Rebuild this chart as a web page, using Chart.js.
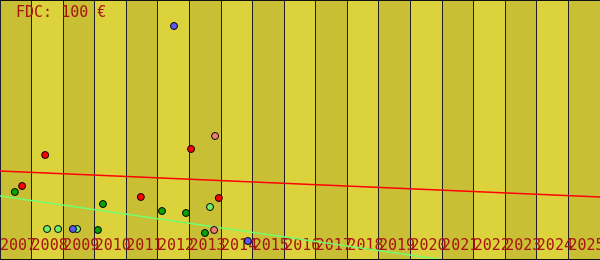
<!DOCTYPE html>
<html>
<head>
<meta charset="utf-8">
<script src="https://cdn.jsdelivr.net/npm/chart.js@4"></script>
<style>
  body { margin: 0; background: #fff; }
  #wrap { width: 600px; height: 260px; position: relative; }
</style>
</head>
<body>
<div id="wrap"><canvas id="myChart"></canvas></div>
<script>
// years shown on the x axis
let years = [2007, 2008, 2009, 2010, 2011, 2012, 2013, 2014, 2015, 2016,
  2017, 2018, 2019, 2020, 2021, 2022, 2023, 2024, 2025];
let titleText = 'FDC: 100 €';

// sale prices (€) by date, per group
let bluePts = [{x: 2012.51, y: 117}, {x: 2009.31, y: 15.5}, {x: 2014.85, y: 9.5}];
let redPts = [{x: 2008.43, y: 52.5}, {x: 2007.70, y: 37}, {x: 2011.46, y: 31.5},
  {x: 2013.05, y: 55.5}, {x: 2013.93, y: 31}];
let pinkPts = [{x: 2013.81, y: 62}, {x: 2013.78, y: 15}];
let lightGreenPts = [{x: 2008.49, y: 15.5}, {x: 2008.84, y: 15.5}, {x: 2009.44, y: 15.5},
  {x: 2013.65, y: 26.5}];
let darkGreenPts = [{x: 2007.47, y: 34}, {x: 2010.26, y: 28}, {x: 2010.10, y: 15},
  {x: 2012.13, y: 24.5}, {x: 2012.89, y: 23.5}, {x: 2013.49, y: 13.5}];

// trend lines
let redTrend = [{x: 2007, y: 44.5}, {x: 2026, y: 31.5}];
let greenTrend = [{x: 2007, y: 32}, {x: 2026, y: -11.2}];

let stripes = {
  id: 'stripes',
  beforeDraw(chart) {
    let ctx = chart.ctx;
    let xs = chart.scales.x;
    ctx.save();
    years.forEach(yr => {
      let a = xs.getPixelForValue(yr);
      let b = xs.getPixelForValue(yr + 1);
      ctx.fillStyle = yr % 2 ? '#c9bf35' : '#dcd33c';
      ctx.fillRect(a, 0, b - a, chart.height);
    });
    ctx.restore();
  },
  afterDraw(chart) {
    let ctx = chart.ctx;
    ctx.save();
    ctx.strokeStyle = '#111';
    ctx.lineWidth = 1;
    ctx.beginPath();
    ctx.moveTo(0, 0.5); ctx.lineTo(chart.width, 0.5);
    ctx.moveTo(0, chart.height - 0.5); ctx.lineTo(chart.width, chart.height - 0.5);
    ctx.stroke();
    ctx.fillStyle = '#a81414';
    ctx.font = '15px "DejaVu Sans Mono"';
    ctx.textBaseline = 'alphabetic';
    ctx.fillText(titleText, 16, 17);
    ctx.restore();
  }
};

let pt = (label, color, data) => ({
  label: label,
  data: data,
  backgroundColor: color,
  borderColor: '#000',
  borderWidth: 1,
  pointRadius: 3.5,
  pointHoverRadius: 3.5
});

let ctx = document.getElementById('myChart').getContext('2d');
let chart = new Chart(ctx, {
  type: 'scatter',
  data: {
    datasets: [
      pt('blue', '#5a5af5', bluePts),
      pt('red', '#ff0000', redPts),
      pt('pink', '#f47a78', pinkPts),
      pt('lightgreen', '#74f06c', lightGreenPts),
      pt('darkgreen', '#0aa00a', darkGreenPts),
      {
        type: 'line', label: 'red trend', data: redTrend,
        borderColor: '#ff0000', borderWidth: 1.4, pointRadius: 0, fill: false
      },
      {
        type: 'line', label: 'green trend', data: greenTrend,
        borderColor: '#70ff70', borderWidth: 1.4, pointRadius: 0, fill: false
      }
    ]
  },
  options: {
    responsive: true,
    maintainAspectRatio: false,
    animation: false,
    layout: { padding: 0, autoPadding: false },
    plugins: { legend: { display: false }, tooltip: { enabled: false } },
    scales: {
      x: {
        type: 'linear',
        min: 2007,
        max: 2026,
        afterFit(s) { s.height = 0; s.paddingLeft = 0; s.paddingRight = 0; },
        grid: { color: '#1e1e2a', lineWidth: 1, drawTicks: false },
        border: { display: false },
        ticks: {
          stepSize: 1,
          maxTicksLimit: 40,
          autoSkip: false,
          maxRotation: 0,
          minRotation: 0,
          mirror: true,
          align: 'start',
          padding: 5,
          color: '#a81414',
          font: { family: 'DejaVu Sans Mono', size: 15 },
          callback: v => v === 2026 ? '' : String(v)
        }
      },
      y: { display: false, min: 0, max: 130 }
    }
  },
  plugins: [stripes]
});
</script>
</body>
</html>
